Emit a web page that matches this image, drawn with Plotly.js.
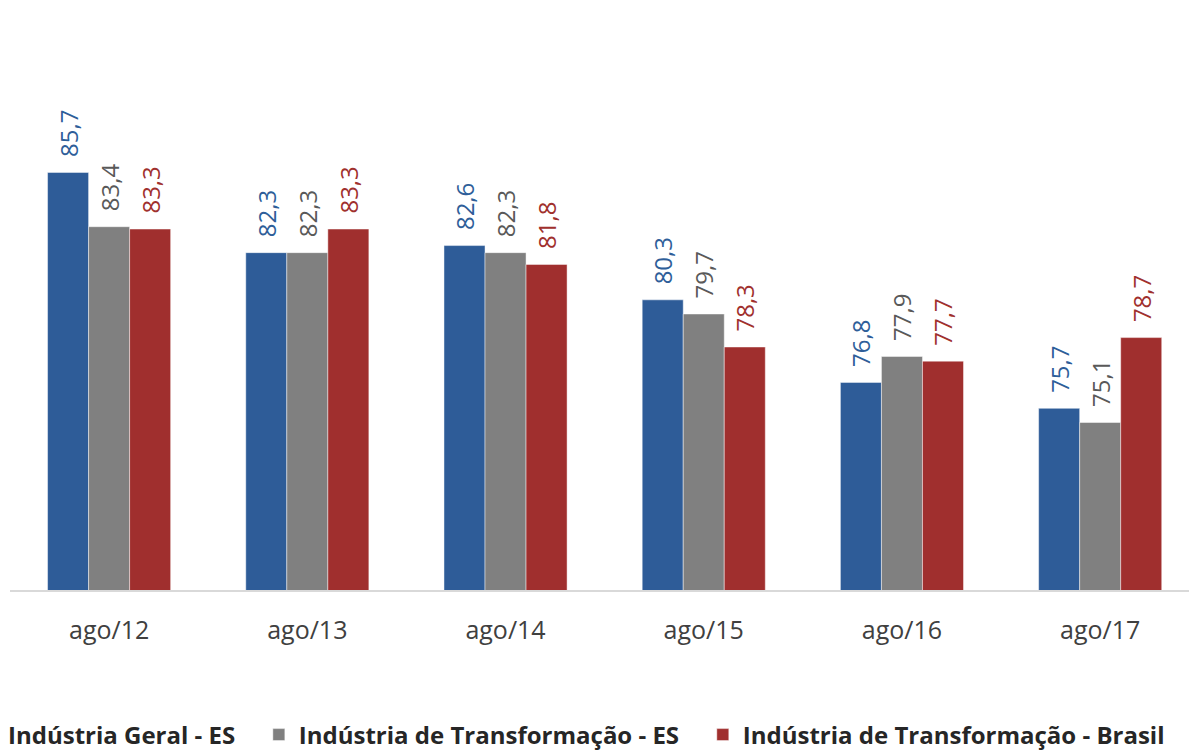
<!DOCTYPE html>
<html>
<head>
<meta charset="utf-8">
<script src="https://cdn.plot.ly/plotly-3.0.1.min.js"></script>
<style>html,body{margin:0;padding:0;background:#fff;overflow:hidden;width:1189px;height:751px}#chart{width:1230px;height:751px}</style>
</head>
<body>
<div id="chart"></div>
<script>
const categories = ["ago/12","ago/13","ago/14","ago/15","ago/16","ago/17"];
const seriesNames = ["Indústria Geral - ES","Indústria de Transformação - ES","Indústria de Transformação - Brasil"];
const geralES = [85.7, 82.3, 82.6, 80.3, 76.8, 75.7];
const transfES = [83.4, 82.3, 82.3, 79.7, 77.9, 75.1];
const transfBR = [83.3, 83.3, 81.8, 78.3, 77.7, 78.7];

const barColors = ["#2E5C98", "#808080", "#A02F2E"];
const labelColors = ["#2E5E99", "#595959", "#A0302D"];
const values = [geralES, transfES, transfBR];

const font = "'Open Sans', sans-serif";
const traces = values.map((v, i) => ({
  type: "bar",
  name: seriesNames[i] + (i < values.length - 1 ? "\u00a0\u00a0\u00a0" : ""),
  x: categories,
  y: v,
  marker: {color: barColors[i], line: {width: 1, color: "rgba(255,255,255,0.45)"}},
  texttemplate: "\u00a0\u00a0%{y:.1f}",
  textposition: "outside",
  textangle: -90,
  constraintext: "none",
  cliponaxis: false,
  textfont: {family: font, size: 24, color: labelColors[i]},
  hoverinfo: "x+y+name"
}));

const layout = {
  width: 1230, height: 751,
  margin: {l: 10, r: 0, t: 71, b: 161, autoexpand: false},
  paper_bgcolor: "#fff", plot_bgcolor: "#fff",
  separators: ",.",
  barmode: "group",
  bargap: 0.379,
  bargroupgap: 0,
  showlegend: true,
  legend: {
    orientation: "h",
    xref: "paper", yref: "paper",
    x: -0.0344, xanchor: "left",
    y: -0.2794, yanchor: "middle",
    font: {family: font, size: 24, color: "#262626", weight: "bold"},
    traceorder: "normal"
  },
  xaxis: {
    type: "category",
    range: [-0.5, 5.655],
    showline: true, linecolor: "#D9D9D9", linewidth: 1.5,
    showgrid: false, zeroline: false,
    ticks: "", ticklabelstandoff: 17,
    tickfont: {family: font, size: 25, color: "#404040"},
    fixedrange: true
  },
  yaxis: {
    range: [68, 90],
    visible: false,
    showgrid: false, zeroline: false,
    fixedrange: true
  }
};

Plotly.newPlot("chart", traces, layout, {displayModeBar: false, staticPlot: true});
</script>
</body>
</html>
